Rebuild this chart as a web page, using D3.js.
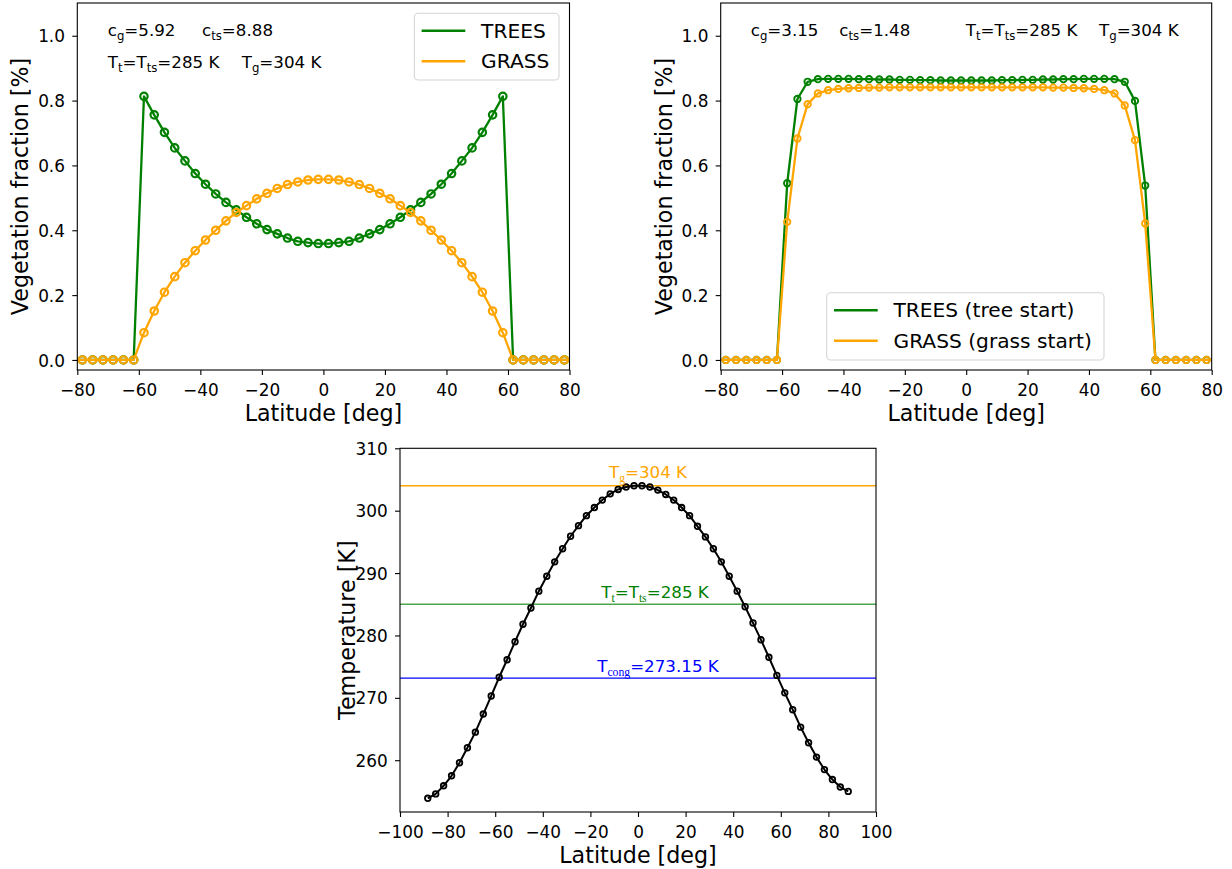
<!DOCTYPE html>
<html><head><meta charset="utf-8">
<script src="https://cdn.jsdelivr.net/npm/d3@7"></script>
<style>body{margin:0;background:#fff} svg{display:block} text{font-family:"DejaVu Sans",sans-serif;fill:#000}</style>
</head><body><svg id="c" width="1232" height="869"></svg>
<script>
// ---------------- data ----------------
const lat = [-88.33,-85,-81.67,-78.33,-75,-71.67,-68.33,-65,-61.67,-58.33,-55,-51.67,-48.33,-45,-41.67,-38.33,-35,-31.67,-28.33,-25,-21.67,-18.33,-15,-11.67,-8.33,-5,-1.67,
             1.67,5,8.33,11.67,15,18.33,21.67,25,28.33,31.67,35,38.33,41.67,45,48.33,51.67,55,58.33,61.67,65,68.33,71.67,75,78.33,81.67,85,88.33];

// panel A (c_g=5.92, c_ts=8.88)
const treesA = [0,0,0,0,0,0,0,0,0,
  0.813,0.756,0.702,0.654,0.614,0.575,0.542,0.512,0.486,0.463,0.440,0.420,0.402,0.389,0.376,0.366,0.362,0.359,
  0.359,0.362,0.366,0.376,0.389,0.402,0.420,0.440,0.463,0.486,0.512,0.542,0.575,0.614,0.654,0.702,0.756,0.813,
  0,0,0,0,0,0,0,0,0];
const grassA = [0,0,0,0,0,0,0,0,0,
  0.084,0.151,0.209,0.257,0.300,0.337,0.370,0.400,0.429,0.455,0.476,0.497,0.514,0.529,0.541,0.549,0.555,0.557,
  0.557,0.555,0.549,0.541,0.529,0.514,0.497,0.476,0.455,0.429,0.400,0.370,0.337,0.300,0.257,0.209,0.151,0.084,
  0,0,0,0,0,0,0,0,0];

// panel B (c_g=3.15, c_ts=1.48)
const treesB = [0,0,0,0,0,0,0,0,0,
  0.545,0.805,0.858,0.866,0.867,0.867,0.867,0.866,0.866,0.865,0.865,0.864,0.864,0.863,0.863,0.862,0.862,0.862,
  0.862,0.862,0.862,0.863,0.863,0.864,0.864,0.865,0.865,0.866,0.866,0.867,0.867,0.867,0.866,0.858,0.799,0.538,
  0,0,0,0,0,0,0,0,0];
const grassB = [0,0,0,0,0,0,0,0,0,
  0.426,0.683,0.789,0.822,0.832,0.836,0.838,0.839,0.840,0.840,0.841,0.841,0.841,0.841,0.841,0.841,0.841,0.841,
  0.841,0.841,0.841,0.841,0.841,0.841,0.841,0.841,0.840,0.840,0.839,0.838,0.836,0.832,0.822,0.785,0.678,0.421,
  0,0,0,0,0,0,0,0,0];

// panel C temperature [K]
const temperature = [253.9,254.6,255.9,257.5,259.6,262.0,264.5,267.4,270.3,273.3,276.1,279.0,281.8,284.4,287.1,289.5,291.8,293.9,295.9,297.6,299.2,300.5,301.7,302.7,303.4,303.8,304.0,
  304.0,303.8,303.3,302.6,301.7,300.5,299.2,297.5,295.8,293.9,291.8,289.5,287.1,284.6,282.0,279.3,276.5,273.6,270.8,268.1,265.3,262.8,260.5,258.5,256.9,255.7,255.0];

const refValues = [304, 285, 273.15];
const vegTicks = [0, 0.2, 0.4, 0.6, 0.8, 1.0];
const latTicksTop = [-80,-60,-40,-20,0,20,40,60,80];
const latTicksBottom = [-100,-80,-60,-40,-20,0,20,40,60,80,100];
const tempTicks = [260,270,280,290,300,310];
const legendA = ["TREES","GRASS"];
const legendB = ["TREES (tree start)","GRASS (grass start)"];

// ---------------- drawing ----------------
const svg = d3.select("#c");
const GREEN = "#008000", ORANGE = "#FFA500";
const TICK_FS = 16.9, LABEL_FS = 22.2;

function mathText(g, x, y, parts, opt) {
  opt = opt || {};
  const fs = opt.fs || 16.7;
  const t = g.append("text").attr("x", x).attr("y", y)
    .attr("font-size", fs).attr("text-anchor", opt.anchor || "start")
    .style("fill", opt.color || "#000");
  let shifted = false;
  const drop = fs * 0.22;
  parts.forEach(p => {
    const ts = t.append("tspan").text(p[0]);
    if (p[1]) {
      ts.attr("font-size", fs * 0.7).attr("dy", shifted ? 0 : drop);
      if (opt.subFont) ts.style("font-family", opt.subFont);
      shifted = true;
    } else {
      if (shifted) ts.attr("dy", -drop);
      shifted = false;
    }
  });
  return t;
}

function makePanel(cfg) {
  const x = d3.scaleLinear().domain(cfg.xdom).range([cfg.x0, cfg.x1]);
  const y = d3.scaleLinear().domain(cfg.ydom).range([cfg.y1, cfg.y0]);
  const g = svg.append("g");
  const clipId = "clip" + Math.round(cfg.x0);
  svg.append("clipPath").attr("id", clipId).append("rect")
    .attr("x", cfg.x0).attr("y", cfg.y0).attr("width", cfg.x1 - cfg.x0).attr("height", cfg.y1 - cfg.y0);
  const plot = g.append("g").attr("clip-path", `url(#${clipId})`);

  const ax = g.append("g").attr("transform", `translate(0,${cfg.y1})`)
    .call(d3.axisBottom(x).tickValues(cfg.xticks).tickFormat(d3.format("d")).tickSize(5).tickSizeOuter(0));
  ax.select(".domain").remove();
  ax.selectAll("text").attr("y", 25.7).attr("dy", 0).attr("font-size", TICK_FS).style("font-family", "DejaVu Sans");
  ax.selectAll("line").attr("stroke", "#000").attr("stroke-width", 1.1);
  const ay = g.append("g").attr("transform", `translate(${cfg.x0},0)`)
    .call(d3.axisLeft(y).tickValues(cfg.yticks).tickFormat(cfg.yfmt).tickSize(5).tickSizeOuter(0));
  ay.select(".domain").remove();
  ay.selectAll("text").attr("x", -12.3).attr("dy", "0.36em").attr("font-size", TICK_FS).style("font-family", "DejaVu Sans");
  ay.selectAll("line").attr("stroke", "#000").attr("stroke-width", 1.1);

  g.append("rect").attr("x", cfg.x0).attr("y", cfg.y0).attr("width", cfg.x1 - cfg.x0).attr("height", cfg.y1 - cfg.y0)
    .attr("fill", "none").attr("stroke", "#000").attr("stroke-width", 1.1);

  g.append("text").attr("x", (cfg.x0 + cfg.x1) / 2).attr("y", cfg.y1 + 51).attr("text-anchor", "middle")
    .attr("font-size", LABEL_FS).text(cfg.xlabel);
  g.append("text").attr("transform", `translate(${cfg.ylabelX},${(cfg.y0 + cfg.y1) / 2}) rotate(-90)`)
    .attr("text-anchor", "middle").attr("font-size", LABEL_FS).text(cfg.ylabel);
  return {x, y, g, plot};
}

function series(p, vals, color, r, sw, lw) {
  const line = d3.line().x((d, i) => p.x(lat[i])).y(d => p.y(d));
  p.plot.append("path").datum(vals).attr("d", line).attr("fill", "none")
    .attr("stroke", color).attr("stroke-width", lw).attr("stroke-linejoin", "round");
  p.plot.append("g").selectAll("circle").data(vals).join("circle")
    .attr("cx", (d, i) => p.x(lat[i])).attr("cy", d => p.y(d)).attr("r", r)
    .attr("fill", "none").attr("stroke", color).attr("stroke-width", sw);
}

function legend(g, bx, by, bw, bh, labels) {
  g.append("rect").attr("x", bx).attr("y", by).attr("width", bw).attr("height", bh).attr("rx", 4)
    .attr("fill", "#fff").attr("fill-opacity", 0.8).attr("stroke", "#d5d5d5").attr("stroke-width", 1.1);
  [GREEN, ORANGE].forEach((c, i) => {
    const ly = by + 17.5 + i * 30.5;
    g.append("line").attr("x1", bx + 7.3).attr("x2", bx + 51).attr("y1", ly).attr("y2", ly)
      .attr("stroke", c).attr("stroke-width", 2.6);
    g.append("text").attr("x", bx + 66.8).attr("y", ly + 7).attr("font-size", 20.2).text(labels[i]);
  });
}

// Panel A
const pA = makePanel({x0: 77.3, x1: 569.5, y0: 3, y1: 370, xdom: [-80, 80], ydom: [-0.031, 1.101],
  xticks: latTicksTop, yticks: vegTicks, yfmt: d3.format(".1f"),
  xlabel: "Latitude [deg]", ylabel: "Vegetation fraction [%]", ylabelX: 28});
series(pA, treesA, GREEN, 3.7, 2.2, 2.3);
series(pA, grassA, ORANGE, 3.7, 2.2, 2.3);
mathText(pA.g, 107.7, 36, [["c",0],["g",1],["=5.92",0]]);
mathText(pA.g, 202, 36, [["c",0],["ts",1],["=8.88",0]]);
mathText(pA.g, 107.7, 68, [["T",0],["t",1],["=T",0],["ts",1],["=285 K",0]]);
mathText(pA.g, 241.7, 68, [["T",0],["g",1],["=304 K",0]]);
legend(pA.g, 414.3, 13.3, 144.7, 66.7, legendA);

// Panel B
const pB = makePanel({x0: 720.7, x1: 1211.7, y0: 3, y1: 370, xdom: [-80, 80], ydom: [-0.031, 1.101],
  xticks: latTicksTop, yticks: vegTicks, yfmt: d3.format(".1f"),
  xlabel: "Latitude [deg]", ylabel: "Vegetation fraction [%]", ylabelX: 671.5});
series(pB, treesB, GREEN, 3.2, 1.9, 2.3);
series(pB, grassB, ORANGE, 3.2, 1.9, 2.3);
mathText(pB.g, 750.7, 36, [["c",0],["g",1],["=3.15",0]]);
mathText(pB.g, 839.3, 36, [["c",0],["ts",1],["=1.48",0]]);
mathText(pB.g, 965.7, 36, [["T",0],["t",1],["=T",0],["ts",1],["=285 K",0]]);
mathText(pB.g, 1099, 36, [["T",0],["g",1],["=304 K",0]]);
legend(pB.g, 826.7, 292.7, 277.3, 67.3, legendB);

// Panel C
const pC = makePanel({x0: 400, x1: 876, y0: 448.3, y1: 812, xdom: [-100, 100], ydom: [251.7, 310],
  xticks: latTicksBottom, yticks: tempTicks, yfmt: d3.format("d"),
  xlabel: "Latitude [deg]", ylabel: "Temperature [K]", ylabelX: 355});
const refColors = [ORANGE, GREEN, "#0000FF"];
const refOpacity = [1, 0.7, 1];
const refLabels = [
  [["T",0],["g",1],["=304 K",0]],
  [["T",0],["t",1],["=T",0],["ts",1],["=285 K",0]],
  [["T",0],["cong",1],["=273.15 K",0]]
];
const refLabelX = [648, 655, 658];
const refLabelDy = [7.5, 6, 6.2];
refValues.forEach((v, i) => {
  pC.plot.append("line").attr("x1", 400).attr("x2", 876).attr("y1", pC.y(v)).attr("y2", pC.y(v))
    .attr("stroke", refColors[i]).attr("stroke-opacity", refOpacity[i]).attr("stroke-width", 1.3);
  mathText(pC.g, refLabelX[i], pC.y(v) - refLabelDy[i], refLabels[i],
    {anchor: "middle", color: i === 1 ? GREEN : refColors[i], subFont: "Liberation Serif"});
});
series(pC, temperature, "#000", 2.8, 1.8, 2.0);
</script></body></html>
